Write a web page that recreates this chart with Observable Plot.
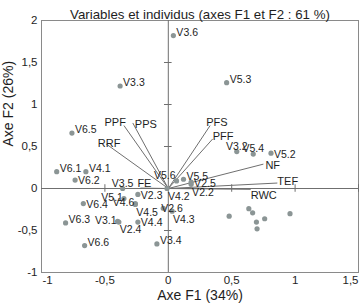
<!DOCTYPE html>
<html>
<head>
<meta charset="utf-8">
<script src="https://cdn.jsdelivr.net/npm/d3@7"></script>
<script src="https://cdn.jsdelivr.net/npm/@observablehq/plot@0.6"></script>
<style>
  body { margin: 0; background: #fff; }
  #chart svg { font-family: "Liberation Sans", Arial, Helvetica, sans-serif; display: block; }
</style>
</head>
<body>
<div id="chart"></div>
<script>
// Biplot of the PCA: observations (dots) and variables (vectors) on F1/F2
const title = "Variables et individus (axes F1 et F2 : 61 %)";
const xTitle = "Axe F1 (34%)";
const yTitle = "Axe F2 (26%)";
const xTicks = [-1, -0.5, 0, 0.5, 1, 1.5];
const yTicks = [-1, -0.5, 0, 0.5, 1, 1.5, 2];

// Labelled individuals
const indNames = ["V3.6", "V3.3", "V5.3", "V6.5", "V3.2", "V5.4", "V5.2", "V6.1", "V4.1", "V6.2",
                  "V3.5", "V5.1", "V2.3", "V6.4", "V4.6", "V4.5", "V6.3", "V3.1", "V2.4", "V4.4",
                  "V6.6", "V3.4", "V2.6", "V4.3", "V4.2", "V2.2", "V5.6", "V5.5", "V2.5"];
const indF1 = [0.04, -0.38, 0.46, -0.76, 0.54, 0.67, 0.81, -0.88, -0.65, -0.735,
               -0.36, -0.35, -0.24, -0.67, -0.26, -0.26, -0.81, -0.40, -0.39, -0.24,
               -0.66, -0.09, -0.04, 0.03, -0.01, 0.18, 0.065, 0.12, 0.18];
const indF2 = [1.82, 1.22, 1.26, 0.66, 0.44, 0.41, 0.42, 0.20, 0.20, 0.10,
               0.0, -0.12, -0.07, -0.18, -0.18, -0.19, -0.41, -0.39, -0.40, -0.40,
               -0.68, -0.66, -0.235, -0.27, 0.0, 0.05, 0.09, 0.11, 0.075];

// Unlabelled individuals
const otherF1 = [0.48, 0.635, 0.665, 0.695, 0.76, 0.70, 0.96];
const otherF2 = [-0.33, -0.24, -0.29, -0.40, -0.36, -0.48, -0.30];

// Variables (loadings)
const varNames = ["PPF", "PPS", "RRF", "PFS", "PFF", "NF", "TEF", "RWC", "FE"];
const varF1 = [-0.35, -0.28, -0.49, 0.33, 0.35, 0.75, 0.86, 0.65, -0.22];
const varF2 = [0.75, 0.78, 0.53, 0.75, 0.59, 0.29, 0.065, -0.01, 0.005];

const individuals = indNames.map((name, i) => ({name, f1: indF1[i], f2: indF2[i]}));
const others = otherF1.map((f1, i) => ({f1, f2: otherF2[i]}));
const variables = varNames.map((name, i) => ({name, f1: varF1[i], f2: varF2[i]}));

// Label placement around each dot / vector end
const placements = {
  r:  {textAnchor: "start",  dx: 3,  dy: -3},
  r0: {textAnchor: "start",  dx: 3,  dy: 1},
  b:  {textAnchor: "start",  dx: 1,  dy: 8},
  a:  {textAnchor: "middle", dx: 0,  dy: -5},
  l:  {textAnchor: "end",    dx: -1, dy: -1},
  lu: {textAnchor: "end",    dx: -1, dy: -5},
  o:  {textAnchor: "start",  dx: -2, dy: 0}
};
const indPlace = {
  "V3.2": "a", "V5.4": "a", "V3.5": "a",
  "V5.2": "r0", "V6.2": "r0", "V2.3": "r0", "V6.4": "r0", "V4.4": "r0", "V2.5": "r0",
  "V5.1": "l", "V4.6": "l", "V3.1": "l", "V5.6": "lu",
  "V4.5": "b", "V2.4": "b", "V4.3": "b", "V4.2": "b", "V2.2": "b",
  "V2.6": "o"
};
const varPlace = {
  PPF: {textAnchor: "end", dx: 2, dy: -3},
  PPS: {textAnchor: "start", dx: 2, dy: 1},
  RRF: {textAnchor: "middle", dx: 3, dy: -1},
  PFS: {textAnchor: "start", dx: -4, dy: -3},
  PFF: {textAnchor: "start", dx: 0, dy: -2},
  NF:  {textAnchor: "start", dx: 2, dy: 1},
  TEF: {textAnchor: "start", dx: 0, dy: -2},
  RWC: {textAnchor: "start", dx: 0, dy: 6},
  FE:  {textAnchor: "start", dx: -3, dy: -5}
};

const fmt = d => String(d).replace(".", ",");
const textColor = "#1e1e1e";
const dotColor = "#8b9595";
const lineColor = "#6f6f6f";

const indLabelMarks = Object.entries(placements).map(([key, p]) =>
  Plot.text(individuals.filter(d => (indPlace[d.name] || "r") === key), {
    x: "f1", y: "f2", text: "name", fontSize: 10.5, fill: textColor, ...p
  })
);
const varLabelMarks = variables.map(v =>
  Plot.text([v], {x: "f1", y: "f2", text: "name", fontSize: 11, fill: textColor, ...varPlace[v.name]})
);

const chart = Plot.plot({
  width: 361,
  height: 308,
  marginLeft: 41,
  marginRight: 3,
  marginTop: 20,
  marginBottom: 36,
  x: {domain: [-1, 1.5], axis: null},
  y: {domain: [-1, 2], axis: null},
  style: {background: "#fff"},
  marks: [
    Plot.frame({stroke: "#8a8a8a"}),
    // axes through the origin with their small ticks
    Plot.ruleX([0], {stroke: lineColor}),
    Plot.ruleY([0], {stroke: lineColor}),
    Plot.ruleY(yTicks.filter(v => v !== 0 && v > -1 && v < 2), {x1: -0.03, x2: 0.03, stroke: lineColor}),
    Plot.ruleX(xTicks.filter(v => v !== 0 && v > -1), {y1: -0.045, y2: 0.045, stroke: lineColor}),
    // variable vectors
    Plot.link(variables, {x1: () => 0, y1: () => 0, x2: "f1", y2: "f2", stroke: lineColor, strokeWidth: 1}),
    // individuals
    Plot.dot(others, {x: "f1", y: "f2", r: 2.6, fill: dotColor, stroke: "none"}),
    Plot.dot(individuals, {x: "f1", y: "f2", r: 2.6, fill: dotColor, stroke: "none"}),
    ...indLabelMarks,
    ...varLabelMarks,
    // tick labels
    Plot.text(yTicks, {y: d => d, text: fmt, frameAnchor: "left", textAnchor: "end", dx: -4, fontSize: 11.5, fill: textColor}),
    Plot.text(xTicks.slice(0, 1), {x: d => d, text: fmt, frameAnchor: "bottom", textAnchor: "start", dy: 11, dx: 1, fontSize: 11.5, fill: textColor}),
    Plot.text(xTicks.slice(1, -1), {x: d => d, text: fmt, frameAnchor: "bottom", textAnchor: "middle", dy: 11, fontSize: 11.5, fill: textColor}),
    Plot.text(xTicks.slice(-1), {x: d => d, text: fmt, frameAnchor: "bottom", textAnchor: "end", dy: 11, fontSize: 11.5, fill: textColor}),
    // titles
    Plot.text([title], {frameAnchor: "top", dy: -11, fontSize: 13.3, fill: textColor}),
    Plot.text([xTitle], {frameAnchor: "bottom", dy: 27, fontSize: 14, fill: textColor}),
    Plot.text([yTitle], {frameAnchor: "left", dx: -33, rotate: -90, fontSize: 14, fill: textColor})
  ]
});
document.getElementById("chart").appendChild(chart);
</script>
</body>
</html>
